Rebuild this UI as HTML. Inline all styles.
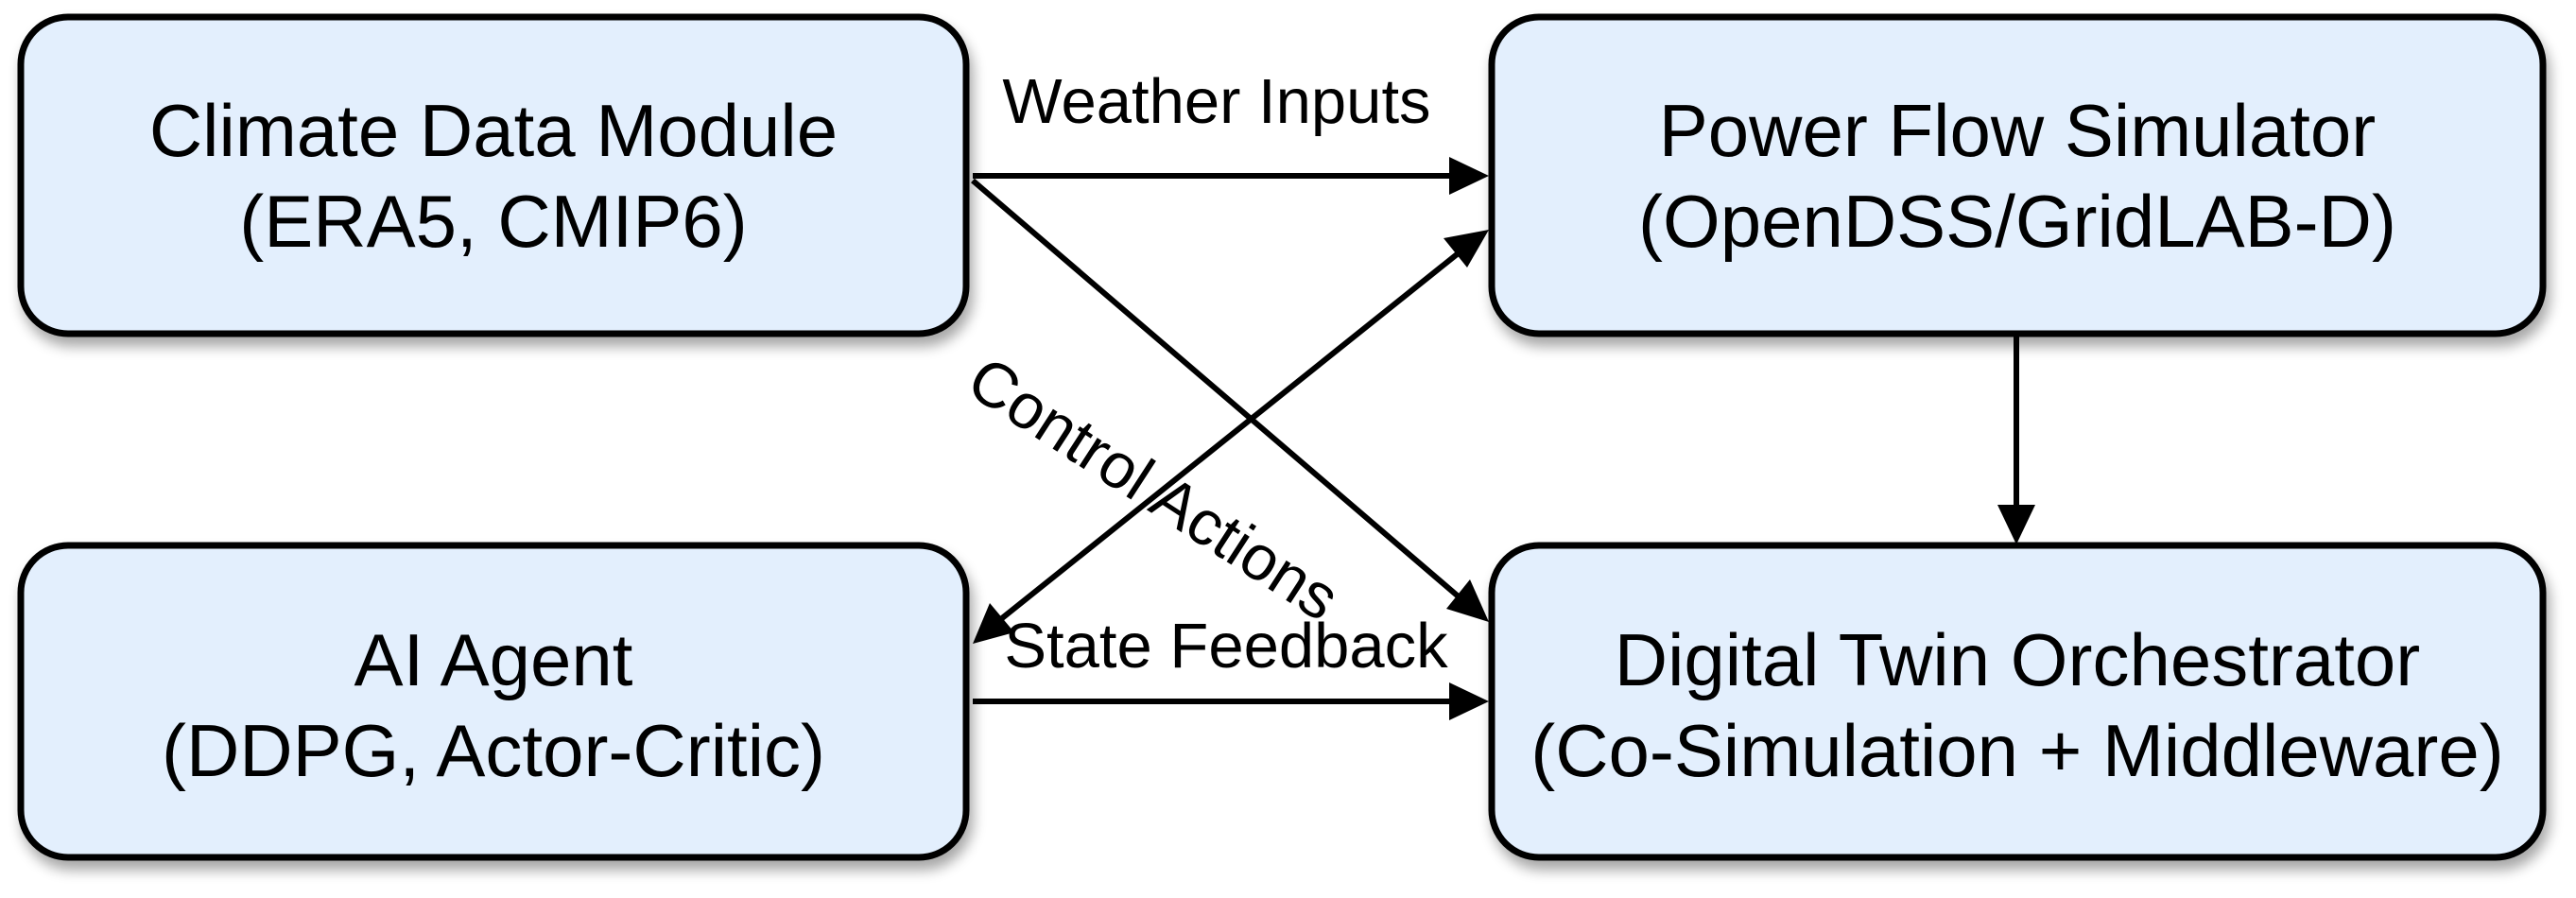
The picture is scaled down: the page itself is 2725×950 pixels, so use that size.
<!DOCTYPE html>
<html><head><meta charset="utf-8"><style>
html,body{margin:0;padding:0;background:#fff;}
svg{display:block;}
text{font-family:"Liberation Sans",Arial,sans-serif;fill:#000;}
</style></head><body>
<svg width="2725" height="950" viewBox="0 0 2725 950" xmlns="http://www.w3.org/2000/svg">
<defs>
<filter id="sh" x="-10%" y="-10%" width="125%" height="130%">
<feGaussianBlur in="SourceAlpha" stdDeviation="7"/>
<feOffset dx="4" dy="10" result="b"/>
<feComponentTransfer><feFuncA type="linear" slope="0.35"/></feComponentTransfer>
<feMerge><feMergeNode/><feMergeNode in="SourceGraphic"/></feMerge>
</filter>
</defs>
<g fill="#e3effd" stroke="#000" stroke-width="7" filter="url(#sh)">
<rect x="22" y="18" width="1000" height="335" rx="50"/>
<rect x="1578" y="18" width="1112" height="335" rx="50"/>
<rect x="22" y="577" width="1000" height="330" rx="50"/>
<rect x="1578" y="577" width="1112" height="330" rx="50"/>
</g>
<g font-size="78" text-anchor="middle">
<text x="522" y="165">Climate Data Module</text>
<text x="522" y="261">(ERA5, CMIP6)</text>
<text x="2134" y="165">Power Flow Simulator</text>
<text x="2134" y="261">(OpenDSS/GridLAB-D)</text>
<text x="522" y="725">AI Agent</text>
<text x="522" y="821">(DDPG, Actor-Critic)</text>
<text x="2134" y="725">Digital Twin Orchestrator</text>
<text x="2134" y="821">(Co-Simulation + Middleware)</text>
</g>
<g stroke="#000" stroke-width="6" fill="none">
<line x1="1029" y1="186" x2="1535" y2="186"/>
<line x1="1029" y1="191" x2="1545" y2="633"/>
<line x1="1545" y1="266" x2="1055" y2="658"/>
<line x1="1029" y1="742" x2="1535" y2="742"/>
<line x1="2133" y1="356" x2="2133" y2="536"/>
</g>
<g fill="#000">
<polygon points="1575,186 1533,166 1533,206"/>
<polygon points="1575,742 1533,722 1533,762"/>
<polygon points="2133,576 2113,534 2153,534"/>
<polygon points="1575,658 1530,644 1555,613"/>
<polygon points="1575,243 1552,283 1527,252"/>
<polygon points="1029,681 1047,638 1073,669"/>
</g>
<g font-size="67" text-anchor="middle">
<text x="1287" y="130">Weather Inputs</text>
<text x="1297" y="706">State Feedback</text>
<text x="0" y="0" transform="translate(1208,536) rotate(33)">Control Actions</text>
</g>
</svg>
</body></html>
